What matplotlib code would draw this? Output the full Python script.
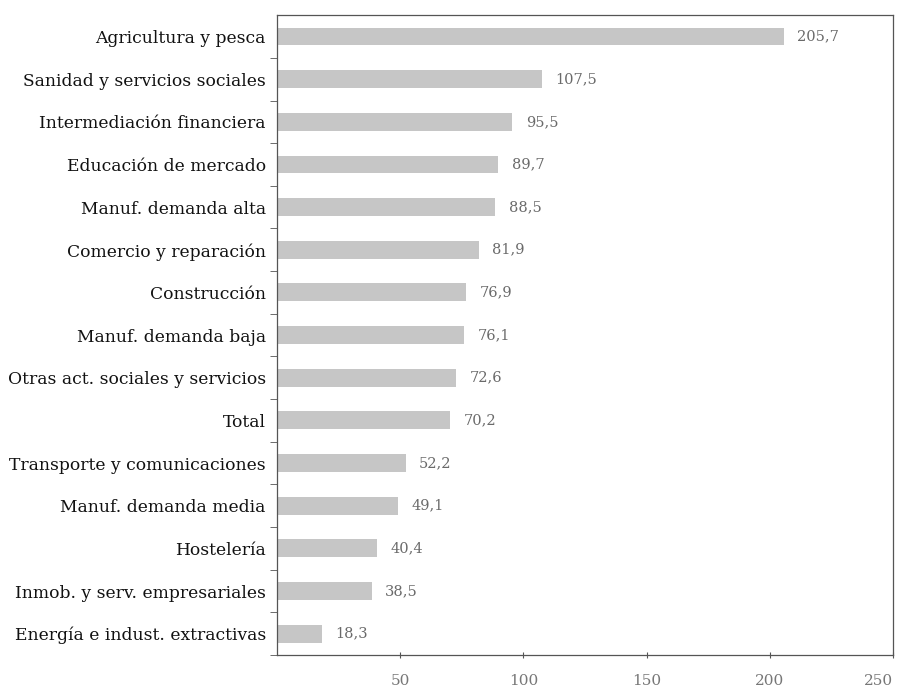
import numpy as np
import matplotlib.pyplot as plt
from matplotlib.ticker import FixedLocator

# sectores, de abajo hacia arriba
sectores = [
    'Energía e indust. extractivas',
    'Inmob. y serv. empresariales',
    'Hostelería',
    'Manuf. demanda media',
    'Transporte y comunicaciones',
    'Total',
    'Otras act. sociales y servicios',
    'Manuf. demanda baja',
    'Construcción',
    'Comercio y reparación',
    'Manuf. demanda alta',
    'Educación de mercado',
    'Intermediación financiera',
    'Sanidad y servicios sociales',
    'Agricultura y pesca',
]
valores = [18.3, 38.5, 40.4, 49.1, 52.2, 70.2, 72.6, 76.1, 76.9, 81.9,
           88.5, 89.7, 95.5, 107.5, 205.7]
etiquetas = ['18,3', '38,5', '40,4', '49,1', '52,2', '70,2', '72,6', '76,1',
             '76,9', '81,9', '88,5', '89,7', '95,5', '107,5', '205,7']
xticks = [50, 100, 150, 200, 250]

plt.rcParams['font.family'] = ['DejaVu Serif']

fig = plt.figure(figsize=(9.01, 6.91), dpi=100)
ax = fig.add_axes([0.3074, 0.0521, 0.6836, 0.9259])

y = np.arange(len(sectores))
ax.barh(y, valores, height=0.42, color='#c6c6c6', edgecolor='none')

for yi, v, t in zip(y, valores, etiquetas):
    ax.text(v + 5.5, yi, t, va='center', ha='left', fontsize=10.5, color='#6a6a6a')

ax.set_xlim(0, 250)
ax.set_ylim(-0.5, len(sectores) - 0.5)

ax.set_yticks(y)
ax.set_yticklabels(sectores, fontsize=12.3, color='#111111')
ax.tick_params(axis='y', which='major', length=0, pad=8)
ax.yaxis.set_minor_locator(FixedLocator(np.arange(-0.5, len(sectores) - 0.5, 1)))
ax.tick_params(axis='y', which='minor', length=5, direction='out', color='#555555')

ax.set_xticks(xticks)
ax.set_xticklabels([str(t) for t in xticks], fontsize=11, color='#777777')
ax.tick_params(axis='x', length=4, direction='inout', color='#555555', pad=12)
ax.get_xticklabels()[-1].set_horizontalalignment('right')
ax.get_xticklabels()[-1].set_x(250.5)

for s in ax.spines.values():
    s.set_color('#555555')
    s.set_linewidth(0.9)

fig.savefig('out.png', dpi=100)
